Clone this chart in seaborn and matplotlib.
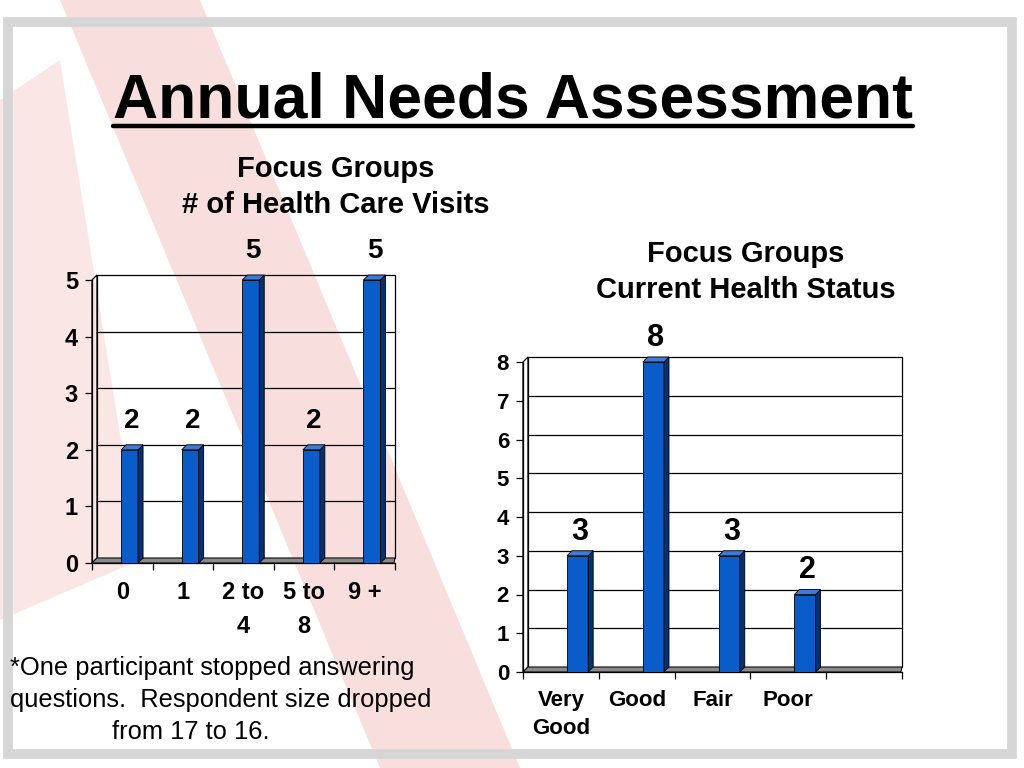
import numpy as np
import pandas as pd
import matplotlib
matplotlib.use("Agg")
import matplotlib.pyplot as plt
import seaborn as sns
from matplotlib.patches import Polygon, Rectangle
from matplotlib.lines import Line2D

# ---------------- data ----------------
visit_cats = ["0", "1", "2 to\n4", "5 to\n8", "9 +"]
visit_counts = [2, 2, 5, 2, 5]
status_cats = ["Very\nGood", "Good", "Fair", "Poor"]
status_counts = [3, 8, 3, 2]

title_text = "Annual Needs Assessment"
left_title = ["Focus Groups", "# of Health Care Visits"]
right_title = ["Focus Groups", "Current Health Status"]
footnote = ["*One participant stopped answering",
            "questions.  Respondent size dropped",
            "from 17 to 16."]

# ---------------- style ----------------
sns.set_theme(style="white")
plt.rcParams["font.family"] = ["Liberation Sans", "DejaVu Sans"]
plt.rcParams["text.color"] = "black"
plt.rcParams["xtick.color"] = "black"
plt.rcParams["ytick.color"] = "black"
plt.rcParams["xtick.labelcolor"] = "black"
plt.rcParams["ytick.labelcolor"] = "black"

W, H = 1024, 768
fig = plt.figure(figsize=(W / 100, H / 100), dpi=100)
fig.patch.set_facecolor("white")

# faint ribbon watermark + grey frame (background decoration)
fig.patches.append(Polygon([(60 / W, 1 - 0 / H), (200 / W, 1 - 0 / H), (520 / W, 1 - 768 / H), (380 / W, 1 - 768 / H)],
                           closed=True, transform=fig.transFigure, facecolor="#f9dede", edgecolor="none", zorder=-10))
fig.patches.append(Polygon([(0, 1 - 100 / H), (60 / W, 1 - 60 / H), (140 / W, 1 - 560 / H), (0, 1 - 620 / H)],
                           closed=True, transform=fig.transFigure, facecolor="#fbe6e6", edgecolor="none", zorder=-10))
fig.patches.append(Rectangle((8 / W, 14 / H), 1 - 20 / W, 1 - 36 / H, transform=fig.transFigure,
                             facecolor="none", edgecolor="#d6d6d6", linewidth=7, zorder=-9))

FRONT = "#0A5CC8"
SIDE = "#06306E"
TOP = "#3C7BDA"


def px_axes(l, t, r, b):
    return fig.add_axes([l / W, 1 - b / H, (r - l) / W, (b - t) / H])


def draw_chart(ax, cats, vals, nslots, ymax, offset, tick_fs, cat_fs, linesp, val_fs, val_off):
    df = pd.DataFrame({"cat": cats, "val": vals})
    sns.barplot(data=df, x="cat", y="val", ax=ax, color=FRONT, width=0.28,
                saturation=1, edgecolor="black", linewidth=0.6, zorder=4)
    xmin, xmax = -0.5, nslots - 0.5
    ax.set_xlim(xmin, xmax)
    ax.set_ylim(0, ymax)
    ax.set_facecolor("none")
    ax.set_xlabel("")
    ax.set_ylabel("")

    # pixel -> data units for the 3D depth
    ux = (xmax - xmin) / ax.bbox.width
    uy = ymax / ax.bbox.height
    dx, dy = 5 * ux, 5 * uy

    # back wall with gridlines
    ax.add_patch(Rectangle((xmin + dx, dy), xmax - xmin - dx, ymax, facecolor="none",
                           edgecolor="black", linewidth=0.9, clip_on=False, zorder=1))
    for yv in range(1, ymax):
        ax.plot([xmin + dx, xmax], [yv + dy, yv + dy], color="black", linewidth=0.9,
                clip_on=False, zorder=1)
    # side wall
    ax.add_patch(Polygon([(xmin, 0), (xmin + dx, dy), (xmin + dx, ymax + dy), (xmin, ymax)],
                         closed=True, facecolor="none", edgecolor="black", linewidth=0.9,
                         clip_on=False, zorder=1))
    # floor
    ax.add_patch(Polygon([(xmin, 0), (xmax - dx * 0.2, 0), (xmax, dy), (xmin + dx, dy)],
                         closed=True, facecolor="#8a8a8a", edgecolor="black", linewidth=0.7,
                         clip_on=False, zorder=2))

    # 3D bars
    for p, v in zip(ax.patches[:len(vals)], vals):
        p.set_x(p.get_x() + offset)
        x0 = p.get_x()
        x1 = x0 + p.get_width()
        h = p.get_height()
        ax.add_patch(Polygon([(x1, 0), (x1 + dx, dy), (x1 + dx, h + dy), (x1, h)], closed=True,
                             facecolor=SIDE, edgecolor="black", linewidth=0.6, zorder=4,
                             clip_on=False))
        ax.add_patch(Polygon([(x0, h), (x1, h), (x1 + dx, h + dy), (x0 + dx, h + dy)], closed=True,
                             facecolor=TOP, edgecolor="black", linewidth=0.6, zorder=4,
                             clip_on=False))
        ax.annotate(f"{v:g}", xy=((x0 + x1 + dx) / 2, h + dy), xytext=(0, val_off),
                    textcoords="offset points", ha="center", va="bottom",
                    fontsize=val_fs, fontweight="bold", color="black", annotation_clip=False)

    for s in ["top", "right"]:
        ax.spines[s].set_visible(False)
    ax.spines["left"].set_color("black")
    ax.spines["left"].set_linewidth(0.9)
    ax.spines["bottom"].set_color("black")
    ax.spines["bottom"].set_linewidth(0.9)

    ax.set_xticks(np.arange(nslots + 1) - 0.5)
    ax.set_xticklabels([""] * (nslots + 1))
    ax.set_xticks(np.arange(len(cats)), minor=True)
    ax.set_xticklabels(cats, minor=True, fontsize=cat_fs, fontweight="bold", linespacing=linesp,
                       color="black")
    ax.tick_params(axis="x", which="major", direction="out", length=5, width=0.9, color="black", bottom=True)
    ax.tick_params(axis="x", which="minor", length=0, pad=13)
    ax.set_yticks(range(0, ymax + 1))
    ax.set_yticklabels([str(i) for i in range(0, ymax + 1)], fontsize=tick_fs, fontweight="bold",
                       color="black")
    ax.tick_params(axis="y", direction="out", length=5, width=0.9, color="black", left=True, pad=5)


ax1 = px_axes(92, 280, 395, 563)
draw_chart(ax1, visit_cats, visit_counts, 5, 5, 0.12, 17, 17, 1.6, 20, 8)

ax2 = px_axes(523, 362, 902, 672)
draw_chart(ax2, status_cats, status_counts, 5, 8, 0.22, 16, 16, 1.45, 22, 3)

# ---------------- texts ----------------
t = fig.text(513 / W, 1 - 118 / H, title_text, ha="center", va="baseline",
             fontsize=45, fontweight="bold", color="black")
for line, yb in zip(left_title, [177, 213]):
    fig.text(336 / W, 1 - yb / H, line, ha="center", va="baseline", fontsize=21,
             fontweight="bold", color="black")
for line, yb in zip(right_title, [262, 298]):
    fig.text(746 / W, 1 - yb / H, line, ha="center", va="baseline", fontsize=21,
             fontweight="bold", color="black")
for line, xc, yb in zip(footnote, [212, 221, 191], [675, 707, 739]):
    fig.text(xc / W, 1 - yb / H, line, ha="center", va="baseline", fontsize=18.4, color="black")

# underline for the title
fig.canvas.draw()
bb = t.get_window_extent(renderer=fig.canvas.get_renderer())
fig.add_artist(Line2D([bb.x0 / W, bb.x1 / W], [1 - 126 / H, 1 - 126 / H], color="black",
                      linewidth=3.2, transform=fig.transFigure))

fig.savefig("out.png", dpi=100, facecolor="white")
